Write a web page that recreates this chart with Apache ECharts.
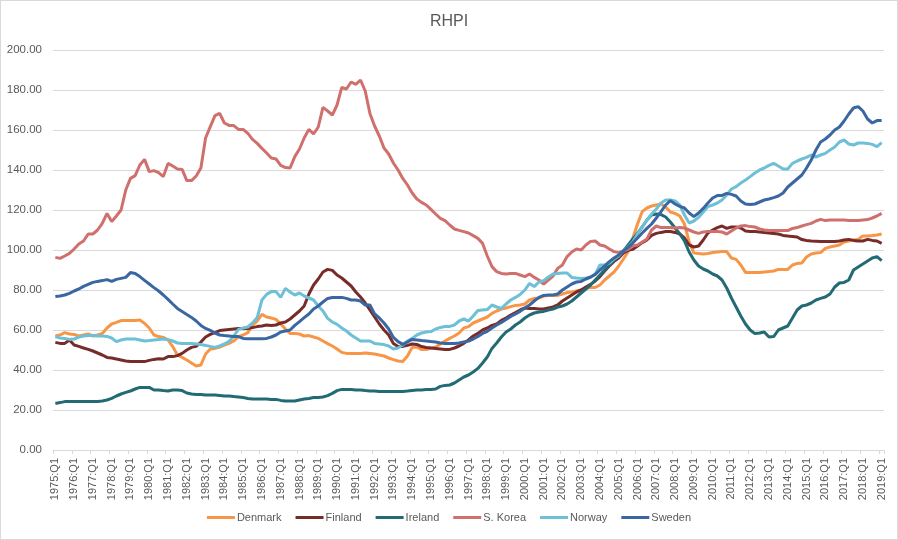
<!DOCTYPE html>
<html>
<head>
<meta charset="utf-8">
<script src="https://cdn.jsdelivr.net/npm/echarts@6/dist/echarts.min.js"></script>
<style>
html,body{margin:0;padding:0;background:#fff;}
#wrap{width:898px;height:540px;box-sizing:border-box;border:1px solid #d9d9d9;position:relative;}
#chart{position:absolute;left:0;top:0;width:896px;height:538px;}
</style>
</head>
<body>
<div id="wrap"><div id="chart"></div></div>
<script>
var years = [];
for (var y = 1975; y <= 2019; y++) years.push(y);
var quarters = ['Q1','Q2','Q3','Q4'];
var categories = [];
years.forEach(function(y){ quarters.forEach(function(q){ if (y < 2019 || q === 'Q1') categories.push(y + ':' + q); }); });

var yTicks = [0, 20, 40, 60, 80, 100, 120, 140, 160, 180, 200];

var denmark = [
57,57.5,58.7,58, 57.8,57,57.5,58, 57,57.5,58.3,61, 63,63.8,64.7,64.7, 64.7,64.7,65,63.3,
61,57.5,56.7,56.3, 55,51.7,47.5,46.3, 45,43.5,42,42.5, 48,50.5,50.8,51.5, 52.5,53.3,54.5,56.7,
57.5,58.7,62.5,64.5, 67.8,66.5,66,65.3, 63,60.5,58.3,58.2, 58,57,57.2,56.5, 55.8,54.5,53.2,52,
50.5,48.8,48.3,48.3, 48.3,48.3,48.5,48.3, 48,47.5,47,46, 45.2,44.5,44.3,47, 51.3,51.5,50.2,50.2,
51,51.5,53,54.5, 55.8,57,58.5,61, 61.7,63.5,64.5,65.5, 66.5,68.3,69.5,70.5, 71,71.7,72.3,72.5,
73,75,75.8,76, 77,77.3,77.3,77.3, 78,78.7,79,79.5, 80,81,81.3,81.3, 82.5,85,87,89,
92,95.5,99.2,106, 113,119.2,121,122, 122.5,123,121.5,119, 118.3,117,113,104, 98.5,98.3,98,98.3,
98.7,99,99.2,99.2, 96,95.3,92.5,88.8, 88.7,88.7,88.7,89, 89.2,89.5,90.3,90.3, 90.3,92.5,93.3,93.5,
96.5,98,98.5,98.7, 100.8,101.5,102,102.5, 104,104.5,105,105.3, 107,107,107.2,107.5, 108
];
var finland = [
53.8,53.3,53.3,55, 52.5,51.8,51,50.3, 49.5,48.5,47.5,46.3, 46,45.5,45,44.5, 44.3,44.2,44.2,44.2,
44.8,45.3,45.6,45.5, 46.7,46.7,47.2,48.3, 50,51.3,51.8,54, 56.5,57.8,58.7,59.7, 60,60.3,60.5,60.7,
60.8,60.8,61.2,61.7, 62,62.5,62.3,62.5, 63.5,64,65.5,67.5, 69.5,72,78,82.5, 85.5,89,90.3,89.8,
87.5,86,84,82, 79,76.5,73.5,70, 66.5,63,60,57.5, 53.3,51.8,51.8,52.3, 53,52.8,51.7,51.3,
51,50.8,50.5,50.2, 50.3,51,52,53.3, 55,57,58.3,60, 61,62.3,63,64.8, 66,67.5,68.7,70,
71,70.8,70.7,70.5, 70.5,71,71.5,72.5, 74.5,76,77.5,79, 80,81.5,82.8,84.5, 86.7,89.5,92,94.3,
96,98.5,99.8,100.3, 102,103.7,105,107.3, 108.3,108.8,109.2,109.2, 108.8,108,106,102.5, 101.5,102,105,108.5,
110,111.2,112,110.8, 111.5,111.5,111,109.5, 109.2,109.2,109,108.8, 108.5,108.3,108,107.3, 107,106.8,106.5,105.2,
104.8,104.5,104.4,104.3, 104.2,104.2,104.2,104.5, 105,105.3,104.8,104.5, 104.5,105.3,104.8,104.5, 103.3
];
var ireland = [
23.3,23.7,24.2,24.3, 24.3,24.3,24.3,24.3, 24.3,24.3,24.5,25, 25.8,27,28,28.8, 29.5,30.5,31.3,31.3,
31.3,30,30,29.7, 29.5,30,30,29.7, 28.5,28,27.8,27.7, 27.5,27.5,27.5,27.3, 27,27,26.7,26.5,
26.2,25.8,25.5,25.5, 25.5,25.5,25.3,25.3, 24.8,24.5,24.5,24.5, 25,25.5,25.8,26.2, 26.3,26.5,27.2,28.3,
29.7,30.3,30.3,30.2, 30,30,29.7,29.5, 29.5,29.3,29.3,29.3, 29.3,29.3,29.3,29.5, 29.8,30,30,30.2,
30.3,30.5,31.8,32.3, 32.5,33.5,35,36.5, 37.5,39,40.8,43.5, 46.5,50.8,53.5,56.5, 59,60.5,62.5,64,
66,67.5,68.5,69, 69.3,70,70.5,71.5, 72,73,74.5,76.5, 78.5,80.5,82.5,85, 87.5,90,92.5,95,
97,99.5,102.5,105.5, 108.3,111.5,115,117.5, 118,117.7,116.5,114, 111,108,104.5,99, 95,92,90.5,89.5,
88,87,85,81, 76,71.5,67,63, 60,58.2,58.5,59, 56.5,56.7,60,61, 62,66,70,72,
72.5,73.5,75,75.8, 76.5,78,81.5,83.5, 83.8,85,90,91.5, 93,94.5,96,96.7, 94.7
];
var korea = [
96.3,95.8,97,98.3, 100.5,103,104.5,108, 108,110,113.3,118.3, 114.2,117,120,130, 135.8,137.2,142.5,145.3,
139.2,139.7,138.7,136.7, 143.3,142,140.5,140.3, 134.7,134.7,137,141, 156,161.7,167.2,168.3, 163.5,162.3,162.2,160.3,
160.3,158.3,155.3,153.3, 150.8,148.5,146,145.5, 142.3,141.2,141,146.7, 150.5,156,160.3,158, 161.5,171.3,169.5,167.5,
172.5,181.3,180.5,184, 182.8,185,179.5,168.3, 162,157,151,148, 143.5,140,135.8,132.5, 128.5,125.5,123.8,122.5,
120.3,118,115.8,114.7, 112.5,110.5,109.8,109.2, 108.5,107.2,105.8,103.3, 97,91.7,89.2,88.3, 88,88.2,88.3,87.5,
86.7,88,86.3,85, 83,85,87,90.8, 92.5,96.7,99,100.5, 100,102.5,104.3,104.5, 102.5,102,100.5,99.2,
98.7,99.5,100.3,102, 102.5,104,105.5,110, 112,111.2,111.3,111.3, 111,111.3,111,110, 109,108.3,109,109.2,
109.2,109.2,109,108, 109.5,111,112,112.2, 111.7,111.5,110.5,110, 109.7,109.7,109.7,109.7, 109.7,110.8,111.2,112,
112.7,113.3,114.5,115.3, 114.7,115,115,115, 115,114.8,114.7,114.8, 115,115.2,116,117, 118.3
];
var norway = [
56.7,56,55.8,55.3, 55.5,56.5,57,57.3, 57.2,57,57,56.8, 56,54.2,55,55.5, 55.5,55.5,55,54.5,
54.7,55,55.2,55.5, 55.2,54.5,53.5,53.3, 53.3,53.2,53,52.7, 52.3,51.8,51.3,52, 53,54.3,57,60.3,
61,61.5,63.5,66.2, 75,77.8,79.2,79.2, 76.3,80.8,79,77.5, 78.5,77,76,75, 72,69.5,65.8,64,
62.8,61,59.5,57.5, 56,54.5,54.5,54.5, 53.3,53,52.7,52, 50.5,51,52.5,54.5, 55.8,57.5,58.5,59,
59.2,60.5,61.3,61.7, 61.8,62.5,64.5,65.5, 64.5,67,69.7,70, 70.2,72.5,71.5,70.8, 73,75,76.3,77.8,
80,83.3,81.7,84, 84.7,86.5,88,88.3, 88.5,88.5,86.3,86, 85.8,86,86.3,88, 92.5,92.5,93.5,95.5,
97,99.5,101.5,104, 108,111.5,115,118, 120.5,123.5,125,125, 124.5,122.5,117.5,113.5, 114.5,116.3,119,121.7,
122.5,123.5,125,127.5, 130.5,131.7,133.5,135, 136.7,138.5,140,141, 142.3,143.3,142,140.5, 140.5,143.3,144.5,145.5,
146.3,147.5,146.5,147.5, 148.3,150,151.5,154, 155,153,152.5,153.5, 153.5,153.3,152.8,151.7, 153.7
];
var sweden = [
76.7,77,77.5,78.3, 79.5,80.5,81.8,82.8, 83.8,84.3,84.7,85.2, 84.3,85.3,85.8,86.3, 88.7,88.3,86.7,84.8,
83,81.2,79.5,77.5, 75.3,73,70.8,69.3, 67.8,66.3,64.5,62.3, 60.8,59.8,58.5,57.5, 57.2,57,56.8,56.7,
55.8,55.6,55.6,55.6, 55.6,55.8,56.5,57.5, 59,59.5,60,62.3, 64.2,66.2,68,70.5, 72,74,75.8,76.2,
76.3,76.3,75.8,75, 75,74.5,72.5,72.5, 68,66,63.5,60.5, 56.3,54.2,52.8,54, 55.3,55,54.7,54.5,
54.2,54,53.5,53.3, 53.3,53.3,53.5,54, 54.5,55.5,56.8,58.3, 59.3,61,62.5,63.8, 65.3,66.8,68,69.3,
71,72.5,74.5,76.3, 77.3,77.5,77.5,78, 80,81.5,83,84, 84.3,85.5,86.5,87.8, 90,92,94.2,96,
97.5,99.5,101.3,103.5, 106,108.5,110.8,113, 116,119.2,122.5,124.7, 123,121.8,121,118.5, 116.7,118.5,120.8,123.5,
126,127.2,127.3,128.3, 127.8,127,124.5,123, 122.8,123,124,125, 125.5,126.2,127,128.5, 131.5,133.5,135.5,137.5,
141,145,150,154, 155.5,157.5,160,161.5, 164.5,168,171,171.7, 169.5,165.5,163.5,164.7, 164.7
];

var seriesNames = ['Denmark', 'Finland', 'Ireland', 'S. Korea', 'Norway', 'Sweden'];
var seriesData = [denmark, finland, ireland, korea, norway, sweden];
var colors = ['#F79646', '#772C2A', '#226A74', '#D0706D', '#6DC0D5', '#3A67A1'];

var font = 'Liberation Sans, Arial, sans-serif';
var chart = echarts.init(document.getElementById('chart'), null, {renderer: 'canvas'});
chart.setOption({
  animation: false,
  color: colors,
  title: {
    text: 'RHPI', left: 'center', top: 8,
    textStyle: {fontFamily: font, fontSize: 16, fontWeight: 'normal', color: '#595959'}
  },
  legend: {
    data: seriesNames, bottom: 11, left: 'center',
    icon: 'rect', itemWidth: 28, itemHeight: 3, itemGap: 14,
    textStyle: {fontFamily: font, fontSize: 11, color: '#595959', padding: [0, 0, 0, -3]}
  },
  grid: {left: 52, right: 13, top: 49, bottom: 89},
  xAxis: {
    type: 'category', data: categories, boundaryGap: true,
    axisLine: {lineStyle: {color: '#d9d9d9'}},
    axisTick: {show: true, interval: 3, length: 4, lineStyle: {color: '#d9d9d9'}},
    axisLabel: {interval: 3, rotate: 90, margin: 8, fontFamily: font, fontSize: 11, color: '#595959'}
  },
  yAxis: {
    type: 'value', min: yTicks[0], max: yTicks[yTicks.length - 1], interval: 20,
    axisLine: {show: false}, axisTick: {show: false},
    splitLine: {lineStyle: {color: '#d9d9d9'}},
    axisLabel: {margin: 11, fontFamily: font, fontSize: 11.5, color: '#595959',
      formatter: function(v){ return v.toFixed(2); }}
  },
  series: seriesNames.map(function(n, i){
    return {name: n, type: 'line', data: seriesData[i], symbol: 'none', smooth: false,
      lineStyle: {width: 3, color: colors[i]}, itemStyle: {color: colors[i]}};
  })
});
</script>
</body>
</html>
